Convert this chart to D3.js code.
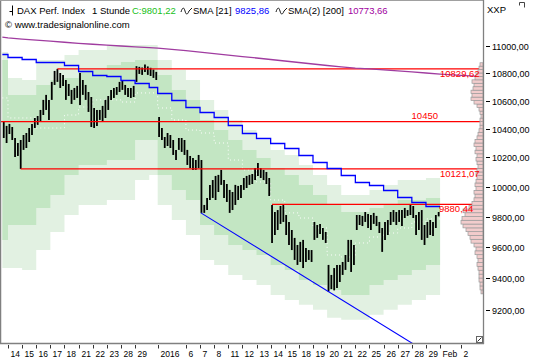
<!DOCTYPE html>
<html><head><meta charset="utf-8">
<script src="https://cdn.jsdelivr.net/npm/d3@7"></script>
<style>body{margin:0;background:#fff}svg{display:block}text{font-family:"Liberation Sans",Arial,sans-serif}</style>
</head><body><svg id="c" width="540" height="360"></svg>
<script>
// ---------- DATA ----------
const dayLabels = ["","14","15","16","17","18","21","22","23","28","29","","2016","","6","7","8","11","12","13","14","15","18","19","20","21","22","25","26","27","28","29","Feb","2"];
const dayUnits  = [2,5,5,5,5,5,5,5,5,5,5,3,5,5,5,5,5,5,5,5,5,5,5,5,5,5,5,5,5,5,5,5,7.5,7.7];
const highs = [10448,10420,10434,10412,10335,10300,10321,10356,10370,10405,
 10434,10476,10490,10533,10605,10641,10605,10735,10815,10830,
 10800,10786,10749,10720,10677,10691,10706,10800,10749,10713,
 10662,10626,10547,10533,10533,10562,10605,10633,10677,10691,
 10698,10735,10749,10713,10691,10691,10706,10850,10845,10840,
 10862,10848,10838,10825,10808,10483,10405,10342,10370,10356,
 10321,10252,10335,10335,10321,10252,10210,10196,10182,10217,
 10182,9877,9924,10012,10045,10073,10080,10114,10045,10018,
 9978,9964,10012,10005,10012,10059,10073,10080,10086,10127,
 10162,10127,10114,10100,10059,9877,9830,9843,9870,9877,
 9810,9764,9711,9659,9613,9633,9646,9593,9580,9580,
 9764,9744,9751,9724,9698,9484,9420,9464,9484,9484,
 9503,9548,9646,9646,9613,9810,9810,9804,9830,9817,
 9810,9824,9804,9764,9724,9764,9777,9830,9843,9830,
 9843,9843,9857,9843,9877,9870,9810,9830,9843,9744,
 9764,9777,9764,9810,9830];
const lows = [10335,10300,10363,10321,10203,10210,10121,10252,10265,10307,
 10356,10405,10427,10448,10497,10533,10462,10605,10713,10735,
 10691,10706,10605,10633,10576,10605,10619,10569,10641,10605,
 10519,10412,10405,10420,10462,10448,10476,10533,10605,10619,
 10641,10662,10677,10641,10626,10619,10626,10735,10793,10786,
 10808,10786,10778,10764,10749,10342,10321,10265,10279,10265,
 10217,10182,10252,10238,10217,10148,10127,10114,10114,10127,
 9824,9824,9843,9910,9924,9910,9964,10012,9924,9897,
 9824,9843,9877,9910,9924,9978,9991,10012,10018,10045,
 10073,10059,10045,10018,9937,9626,9678,9711,9751,9764,
 9678,9613,9580,9516,9484,9503,9464,9503,9516,9503,
 9646,9659,9685,9646,9626,9314,9330,9322,9337,9375,
 9420,9452,9503,9439,9484,9711,9744,9737,9764,9724,
 9711,9751,9737,9691,9568,9646,9678,9744,9764,9744,
 9764,9737,9790,9804,9810,9790,9678,9711,9646,9613,
 9659,9678,9672,9724,9801];
// daily bands (one value per trading day with data)
const bandOuterTop = [10955,10764,10749,10896,10896,10933,10970,10970,11007,11007,11007,11007,10896,10822,10749,10605,10533,10462,10391,10321,10252,10217,10148,10080,10012,9944,9944,9978,10012,10045,10045,10059];
const bandInnerTop = [10896,10641,10641,10713,10749,10764,10822,10822,10859,10881,10896,10896,10786,10677,10605,10462,10391,10321,10252,10196,10127,10080,10012,9944,9877,9830,9830,9857,9877,9910,9910,9924];
const bandInnerBot = [9646,9744,9744,9857,9944,10080,10148,10148,10182,10182,10321,10321,10080,9978,9910,9744,9678,9613,9580,9548,9484,9452,9388,9356,9324,9293,9293,9356,9388,9420,9452,9484];
const bandOuterBot = [9464,9464,9452,9580,9698,9810,9877,9877,9910,9910,10045,10080,9877,9777,9678,9516,9484,9420,9388,9356,9293,9262,9231,9200,9151,9138,9138,9169,9200,9231,9262,9293];
const bandMid      = [10619,10476,10476,10405,10405,10497,10554,10605,10605,10590,10655,10655,10547,10462,10391,10370,10300,10182,10114,10032,9910,9824,9790,9724,9548,9535,9626,9665,9691,9724,9764,9784];
const smaBlue      = [10936,10918,10901,10879,10879,10859,10817,10786,10781,10749,10725,10700,10655,10605,10557,10521,10483,10427,10368,10333,10298,10263,10217,10171,10125,10080,10034,10012,9978,9933,9899,9870];
// purple: value at each day start (incl. the two projected days) plus the right edge
const smaPurple    = [11066,11060,11051,11043,11035,11027,11019,11012,11006,10999,10993,10987,10983,10974,10964,10953,10943,10932,10921,10910,10899,10888,10877,10866,10855,10845,10836,10830,10822,10815,10808,10800,10792,10783,10774];
const levels       = [10829.62, 10450, 10121.07, 9880.44];
const levelStartBar= [19, 0, 6, 95];
const trendBars    = [70, 115];
const yTicks       = [9200,9400,9600,9800,10000,10200,10400,10600,10800,11000];
const profileStart = 9300, profileStep = 25;
const profileVol   = [2,3,3,4,4,4,5,6,5,6,8,7,9,12,13,15,17,20,22,21,18,20,14,11,9,8,9,7,8,7,6,7,6,5,6,7,6,8,7,9,8,6,5,4,3,3,3,2,3,4,6,9,12,11,12,10,9,11,8,7,5,4,3];

// ---------- SCALES ----------
const svg = d3.select("#c");
const R = 483, B = 343;
const totalUnits = d3.sum(dayUnits);
const x = d3.scaleLinear().domain([0, totalUnits]).range([2.35, R]);
const y = d3.scaleLog().domain([9000, 11347]).range([342.3, 0]);
const dayStart = []; { let s = 0; dayUnits.forEach(u => { dayStart.push(s); s += u; }); }
const nData = bandMid.length;
const dataEnd = dayStart[nData];
const vx = d3.scaleLinear().domain([0, 25]).range([0, 25]);

svg.append("rect").attr("width",540).attr("height",360).attr("fill","#fff");
svg.append("defs").append("clipPath").attr("id","clip").append("rect").attr("x",0).attr("y",0).attr("width",R).attr("height",B);
const plot = svg.append("g").attr("clip-path","url(#clip)");

const stepPts = arr => arr.map((v,i)=>({u:dayStart[i], v})).concat([{u:dataEnd, v:arr[arr.length-1]}]);
function stepArea(top, bot, color){
  const pts = top.map((v,i)=>({u:dayStart[i], t:v, b:bot[i]})).concat([{u:dataEnd,t:top[top.length-1],b:bot[bot.length-1]}]);
  plot.append("path").datum(pts).attr("fill",color)
    .attr("d", d3.area().curve(d3.curveStepAfter).x(d=>x(d.u)).y0(d=>y(d.b)).y1(d=>y(d.t)));
}
stepArea(bandOuterTop, bandOuterBot, "#e2f1e2");
stepArea(bandInnerTop, bandInnerBot, "#c3e6c3");
plot.append("path").datum(stepPts(bandMid)).attr("fill","none").attr("stroke","#fff").attr("stroke-width",1)
  .attr("stroke-dasharray","1,3")
  .attr("d", d3.line().curve(d3.curveStepAfter).x(d=>x(d.u)).y(d=>y(d.v)));

// price bars
plot.append("g").selectAll("line").data(highs).join("line")
  .attr("x1",(d,i)=>x(i+0.5)).attr("x2",(d,i)=>x(i+0.5))
  .attr("y1",d=>y(d)).attr("y2",(d,i)=>y(lows[i]))
  .attr("stroke","#000").attr("stroke-width",1.8);

// red levels
levels.forEach((lv,i)=>{
  plot.append("line").attr("x1", i===1 ? 0 : x(levelStartBar[i]+0.5)).attr("x2",R)
    .attr("y1",y(lv)).attr("y2",y(lv)).attr("stroke","#ff0000").attr("stroke-width",1.3);
});

// blue step SMA
plot.append("path").datum(stepPts(smaBlue)).attr("fill","none").attr("stroke","#0000ff").attr("stroke-width",1.3)
  .attr("d", d3.line().curve(d3.curveStepAfter).x(d=>x(d.u)).y(d=>Math.round(y(d.v))+0.5));

// purple SMA
const purplePts = smaPurple.map((v,i)=>({u: i < dayStart.length ? dayStart[i] : totalUnits, v}));
plot.append("path").datum(purplePts).attr("fill","none").attr("stroke","#a03ca0").attr("stroke-width",1.3)
  .attr("d", d3.line().x(d=>x(d.u)).y(d=>y(d.v)));

// trend line through the two lows, extended
{
  const [a,b] = trendBars;
  const x1 = x(a+0.3), y1 = y(lows[a]), x2 = x(b+0.5), y2 = y(lows[b]);
  const k = (y2-y1)/(x2-x1);
  plot.append("line").attr("x1",x1).attr("y1",y1).attr("x2",x1+400).attr("y2",y1+400*k)
    .attr("stroke","#0000ff").attr("stroke-width",1.1);
}

// volume profile
svg.append("g").selectAll("rect").data(profileVol).join("rect")
  .attr("x",d=>R-vx(d)).attr("width",d=>vx(d))
  .attr("y",(d,i)=>y(profileStart+(i+1)*profileStep)).attr("height",(d,i)=>y(profileStart+i*profileStep)-y(profileStart+(i+1)*profileStep))
  .attr("fill","#f2cccc").attr("stroke","#9a9a9a").attr("stroke-width",0.7);

function t(xp, yp, s, attrs, anchor){
  const e = svg.append("text").attr("x",xp).attr("y",yp).text(s).attr("text-anchor",anchor||"start");
  Object.entries(attrs).forEach(([k,v])=>e.attr(k,v)); return e;
}
const lf = {"font-size":"9.5px", fill:"#ff0000"};
const fmt = v => d3.format(".2f")(v).replace(".",",");
t(440, y(levels[0])+8, fmt(levels[0]), lf);
t(438, y(levels[1])-3, "10450", lf, "end");
t(440, y(levels[2])+8, fmt(levels[2]), lf);
t(439, y(levels[3])+8, fmt(levels[3]), lf);

// frame
svg.append("line").attr("x1",0.5).attr("x2",0.5).attr("y1",0).attr("y2",B).attr("stroke","#808080").attr("stroke-width",1.5);
svg.append("line").attr("x1",0).attr("x2",R).attr("y1",0.5).attr("y2",0.5).attr("stroke","#a0a0a0");
svg.append("line").attr("x1",R+0.5).attr("x2",R+0.5).attr("y1",0).attr("y2",B+1).attr("stroke","#808080").attr("stroke-width",1.3);
svg.append("line").attr("x1",0).attr("x2",R+1).attr("y1",B+0.5).attr("y2",B+0.5).attr("stroke","#808080").attr("stroke-width",1.3);

// y axis
yTicks.forEach(v=>{
  const yy = Math.round(y(v))+0.5;
  svg.append("line").attr("x1",486).attr("x2",490).attr("y1",yy).attr("y2",yy).attr("stroke","#000");
  t(492, yy+3.3, fmt(v), {"font-size":"9px", fill:"#000"});
});
// x axis
dayLabels.forEach((lab,i)=>{
  if(!lab) return;
  const xx = Math.round(x(dayStart[i]))+0.5;
  svg.append("line").attr("x1",xx).attr("x2",xx).attr("y1",345).attr("y2",348.5).attr("stroke","#000").attr("stroke-width",0.8);
  t(xx+2, 357, lab, {"font-size":"8.5px", fill:"#000"});
});

// header
svg.append("path").attr("d","M12.5 5.5V15.5M9.5 11.5H12.5").attr("stroke","#000").attr("fill","none");
const hf = {"font-size":"9.5px", fill:"#000"};
t(17, 14, "DAX Perf. Index", hf);
t(92, 14, "1 Stunde", hf);
t(132, 14, "C:9801,22", {"font-size":"9.5px", fill:"#20c020"});
const wave = x0 => svg.append("path").attr("d",`M${x0} 12 c1.5 -5 3 -5 4 -1 s2.5 4 4 0 l3 -3`).attr("stroke","#000").attr("fill","none").attr("stroke-width",0.9);
wave(181); t(193, 14, "SMA [21]", hf);
t(235, 14, "9825,86", {"font-size":"9.5px", fill:"#0000ff"});
wave(276); t(288, 14, "SMA(2) [200]", hf);
t(348, 14, "10773,66", {"font-size":"9.5px", fill:"#a000a0"});
t(5, 28, "© www.tradesignalonline.com", hf);
t(487, 13, "XXP", hf);
svg.append("path").attr("d","M519.5 2.5h5v5M519.5 2.5v3").attr("stroke","#444").attr("fill","none");
svg.append("rect").attr("x",476.5).attr("y",336.5).attr("width",6).attr("height",6).attr("fill","#fff").attr("stroke","#666");
svg.append("path").attr("d","M477.5 341.5L481.5 337.5").attr("stroke","#333");
</script></body></html>
